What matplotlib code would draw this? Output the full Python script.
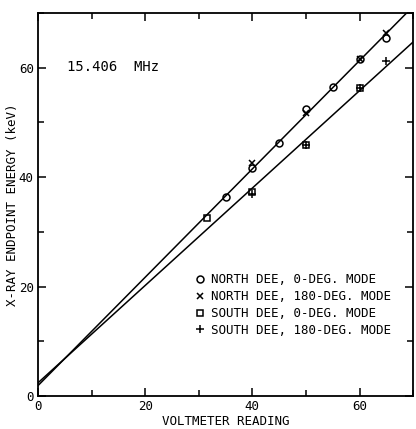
#!/usr/bin/env python3

import numpy as np
from matplotlib import pyplot as plt
from matplotlib.ticker import MultipleLocator

# voltmeter reading vs x-ray endpoint energy (keV), 15.406 MHz
NORTH_0_X = [35, 40, 45, 50, 55, 60, 65]
NORTH_0_Y = [36.4, 41.7, 46.2, 52.4, 56.4, 61.6, 65.4]
NORTH_180_X = [40, 50, 60, 65]
NORTH_180_Y = [42.6, 51.7, 61.6, 66.3]
SOUTH_0_X = [31.5, 40, 50, 60]
SOUTH_0_Y = [32.5, 37.2, 45.9, 56.3]
SOUTH_180_X = [40, 50, 60, 65]
SOUTH_180_Y = [37.0, 45.9, 56.3, 61.2]

# fitted lines: (intercept, slope)
NORTH_FIT = (1.9, 0.99)
SOUTH_FIT = (2.4, 0.89)

FONT = "DejaVu Sans Mono"


def main():
    plt.rcParams["font.family"] = FONT
    fig = plt.figure(figsize=(4.16, 4.29), dpi=100)
    ax = fig.add_axes((0.0913, 0.0769, 0.9017, 0.8928))

    xs = np.array([0, 75])
    for b, m in (NORTH_FIT, SOUTH_FIT):
        ax.plot(xs, b + m * xs, color="black", lw=1.1)

    mk = dict(linestyle="none", color="black", markerfacecolor="none",
              markeredgewidth=1.1)
    ax.plot(NORTH_0_X, NORTH_0_Y, marker="o", markersize=5,
            label="NORTH DEE, 0-DEG. MODE", **mk)
    ax.plot(NORTH_180_X, NORTH_180_Y, marker="x", markersize=5,
            label="NORTH DEE, 180-DEG. MODE", **mk)
    ax.plot(SOUTH_0_X, SOUTH_0_Y, marker="s", markersize=4.5,
            label="SOUTH DEE, 0-DEG. MODE", **mk)
    ax.plot(SOUTH_180_X, SOUTH_180_Y, marker="+", markersize=6,
            label="SOUTH DEE, 180-DEG. MODE", **mk)

    ax.set_xlim(0, 70)
    ax.set_ylim(0, 70)
    ax.xaxis.set_major_locator(MultipleLocator(20))
    ax.xaxis.set_minor_locator(MultipleLocator(10))
    ax.yaxis.set_major_locator(MultipleLocator(20))
    ax.yaxis.set_minor_locator(MultipleLocator(10))
    ax.tick_params(which="both", direction="in", top=True, right=True,
                   labelsize=9, width=1.1, pad=3)
    ax.tick_params(which="major", length=6)
    ax.tick_params(which="minor", length=4)
    for s in ax.spines.values():
        s.set_linewidth(1.3)

    ax.set_xlabel("VOLTMETER READING", fontsize=9, labelpad=1)
    ax.set_ylabel("X-RAY ENDPOINT ENERGY (keV)", fontsize=9)
    ax.yaxis.set_label_coords(-0.05, 0.5)

    ax.text(5.4, 60.1, "15.406  MHz", fontsize=10, va="center", ha="left")

    ax.legend(loc="upper left", bbox_to_anchor=(0.418, 0.32), frameon=False,
              fontsize=9, handlelength=0.8, handletextpad=0.5,
              labelspacing=0.3, borderpad=0, borderaxespad=0)

    fig.savefig("out.png", dpi=100)


if __name__ == "__main__":
    main()
